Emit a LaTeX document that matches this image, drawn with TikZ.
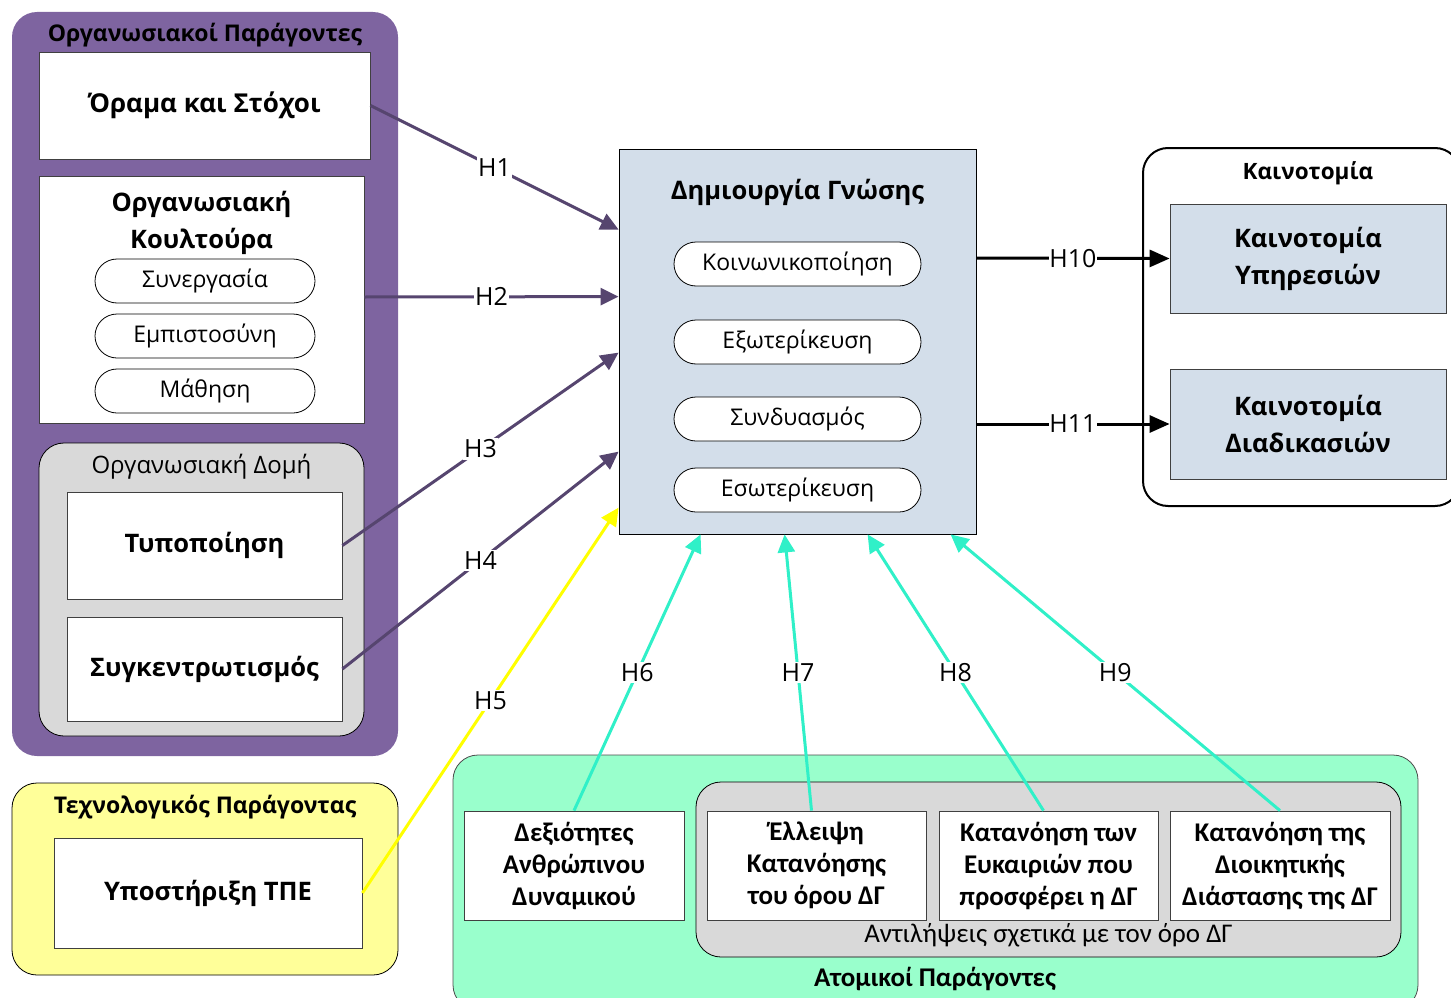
\documentclass[tikz,border=0pt]{standalone}
\usepackage{fontspec}
\setmainfont{Open Sans}
\newfontfamily\calfont{Carlito}
\usetikzlibrary{arrows.meta}
\definecolor{purplebg}{HTML}{7E64A0}
\definecolor{purplearrow}{HTML}{56456F}
\definecolor{centralfill}{HTML}{D3DEEA}
\definecolor{greenbg}{HTML}{99FFCC}
\definecolor{yellowbg}{HTML}{FFFF99}
\definecolor{yellowarrow}{HTML}{FFFF00}
\definecolor{cyanarrow}{HTML}{30F0C8}
\definecolor{graybg}{HTML}{D9D9D9}
\tikzset{
  wbox/.style={draw=black!75, line width=0.8pt, fill=white, inner sep=0pt, align=center},
  pill/.style={draw=black, line width=0.8pt, fill=white, rounded corners=22pt, inner sep=0pt,
    minimum height=44pt, font=\fontsize{23}{27}\selectfont},
  group/.style={inner sep=0pt, rounded corners=25pt},
  lbl/.style={fill=white, inner sep=1.5pt, font=\fontsize{25}{29}\selectfont, text=black},
  parr/.style={draw=purplearrow, line width=3pt, -{Triangle[length=18pt,width=17pt]}},
  carr/.style={draw=cyanarrow, line width=3pt, -{Triangle[length=18pt,width=17pt]}},
  yarr/.style={draw=yellowarrow, line width=3pt, -{Triangle[length=18pt,width=17pt]}},
  barr/.style={draw=black, line width=3pt, -{Triangle[length=20pt,width=17pt]}},
  bt/.style={font=\bfseries\fontsize{25.5}{37}\selectfont},
  bb/.style={font=\calfont\bfseries\fontsize{27}{32}\selectfont},
}
\begin{document}
\begin{tikzpicture}[x=1pt,y=-1pt]
\useasboundingbox (0,0) rectangle (1451,998);
% ---- Organisational factors
\node[group, fill=purplebg, minimum width=386pt, minimum height=744pt] (org) at (205,384) {};
\node[font=\bfseries\fontsize{23}{27}\selectfont] (orgt) at (205,35) {Οργανωσιακοί Παράγοντες};
\node[wbox, font=\bfseries\fontsize{26}{30}\selectfont, minimum width=331pt, minimum height=107pt] (vision) at (204.5,105.5) {Όραμα και Στόχοι};
\node[wbox, minimum width=325pt, minimum height=247pt] (culture) at (201.5,299.5) {};
\node[bt, align=center] (culturet) at (201.5,222.5) {Οργανωσιακή\\Κουλτούρα};
\node[pill, minimum width=220pt] (p1) at (205,281) {Συνεργασία};
\node[pill, minimum width=220pt] (p2) at (205,336) {Εμπιστοσύνη};
\node[pill, minimum width=220pt] (p3) at (205,391) {Μάθηση};
\node[group, draw=black, line width=0.8pt, fill=graybg, minimum width=325pt, minimum height=293pt] (struct) at (201.5,589.5) {};
\node[font=\fontsize{24}{28}\selectfont] (structt) at (201.5,467) {Οργανωσιακή Δομή};
\node[wbox, bt, minimum width=275pt, minimum height=107pt] (typ) at (204.5,545.5) {Τυποποίηση};
\node[wbox, bt, minimum width=275pt, minimum height=104pt] (syg) at (204.5,669) {Συγκεντρωτισμός};
% ---- Technological factor
\node[group, draw=black, line width=0.8pt, fill=yellowbg, minimum width=386pt, minimum height=192pt] (tech) at (205,879) {};
\node[font=\bfseries\fontsize{23}{27}\selectfont] (techt) at (205,807) {Τεχνολογικός Παράγοντας};
\node[wbox, bt, minimum width=308pt, minimum height=110pt] (ypo) at (208,893) {Υποστήριξη ΤΠΕ};
% ---- Knowledge creation
\node[draw=black, line width=0.8pt, fill=centralfill, minimum width=357pt, minimum height=385pt, inner sep=0pt] (central) at (797.5,341.5) {};
\node[font=\bfseries\fontsize{25.5}{30}\selectfont] (centralt) at (797.5,192) {Δημιουργία Γνώσης};
\node[pill, minimum width=247pt] (k1) at (797.5,264) {Κοινωνικοποίηση};
\node[pill, minimum width=247pt] (k2) at (797.5,342) {Εξωτερίκευση};
\node[pill, minimum width=247pt] (k3) at (797.5,419) {Συνδυασμός};
\node[pill, minimum width=247pt] (k4) at (797.5,490) {Εσωτερίκευση};
% ---- Innovation
\node[draw=black, line width=2pt, fill=white, rounded corners=25pt, minimum width=317pt, minimum height=358pt, inner sep=0pt] (innov) at (1301.5,327) {};
\node[font=\bfseries\fontsize{22.5}{27}\selectfont] (innovt) at (1308,173) {Καινοτομία};
\node[draw=black!75, line width=0.8pt, fill=centralfill, bt, align=center, minimum width=276pt, minimum height=109pt, inner sep=0pt] (inn1) at (1308,258.5) {Καινοτομία\\Υπηρεσιών};
\node[draw=black!75, line width=0.8pt, fill=centralfill, bt, align=center, minimum width=276pt, minimum height=110pt, inner sep=0pt] (inn2) at (1308,424) {Καινοτομία\\Διαδικασιών};
% ---- Individual factors
\node[group, draw=black!70, line width=0.8pt, fill=greenbg, minimum width=965pt, minimum height=255pt] (indiv) at (935.5,882.5) {};
\node[font=\calfont\bfseries\fontsize{27}{31}\selectfont] (indivt) at (935,979) {Ατομικοί Παράγοντες};
\node[group, draw=black, line width=0.8pt, fill=graybg, minimum width=705pt, minimum height=175pt] (perc) at (1048.5,869.5) {};
\node[font=\calfont\fontsize{27}{31}\selectfont] (perct) at (1048.5,935) {Αντιλήψεις σχετικά με τον όρο ΔΓ};
\node[wbox, bb, minimum width=220pt, minimum height=109pt] (dex) at (574,865.5) {Δεξιότητες\\Ανθρώπινου\\Δυναμικού};
\node[wbox, bb, minimum width=219pt, minimum height=109pt] (ell) at (816.5,865.5) {Έλλειψη\\Κατανόησης\\του όρου ΔΓ};
\node[wbox, bb, minimum width=219pt, minimum height=109pt] (kat1) at (1048.5,865.5) {Κατανόηση των\\Ευκαιριών που\\προσφέρει η ΔΓ};
\node[wbox, bb, minimum width=220pt, minimum height=109pt] (kat2) at (1280,865.5) {Κατανόηση της\\Διοικητικής\\Διάστασης της ΔΓ};
% ---- Connectors
\draw[parr] (vision.east) -- node[lbl]{H1} ([yshift=-81pt]central.north west);
\draw[parr] ([yshift=2.5pt]culture.east) -- node[lbl]{H2} ([yshift=-148pt]central.north west);
\draw[parr] (typ.east) -- node[lbl]{H3} ([yshift=-204pt]central.north west);
\draw[parr] (syg.east) -- node[lbl]{H4} ([yshift=-303pt]central.north west);
\draw[yarr] (ypo.east) -- node[lbl]{H5} ([yshift=-359pt]central.north west);
\draw[carr] (dex.north) -- node[lbl]{H6} ([xshift=82pt]central.south west);
\draw[carr] ([xshift=-5pt]ell.north) -- node[lbl]{H7} ([xshift=166pt]central.south west);
\draw[carr] ([xshift=-5pt]kat1.north) -- node[lbl]{H8} ([xshift=249pt]central.south west);
\draw[carr] (kat2.north) -- node[lbl]{H9} ([xshift=332pt]central.south west);
\draw[barr] ([yshift=83.5pt]central.east) -- node[lbl, inner sep=0pt]{H10} (inn1.west);
\draw[barr] ([yshift=-82.5pt]central.east) -- node[lbl, inner sep=0pt]{H11} (inn2.west);
\end{tikzpicture}
\end{document}
